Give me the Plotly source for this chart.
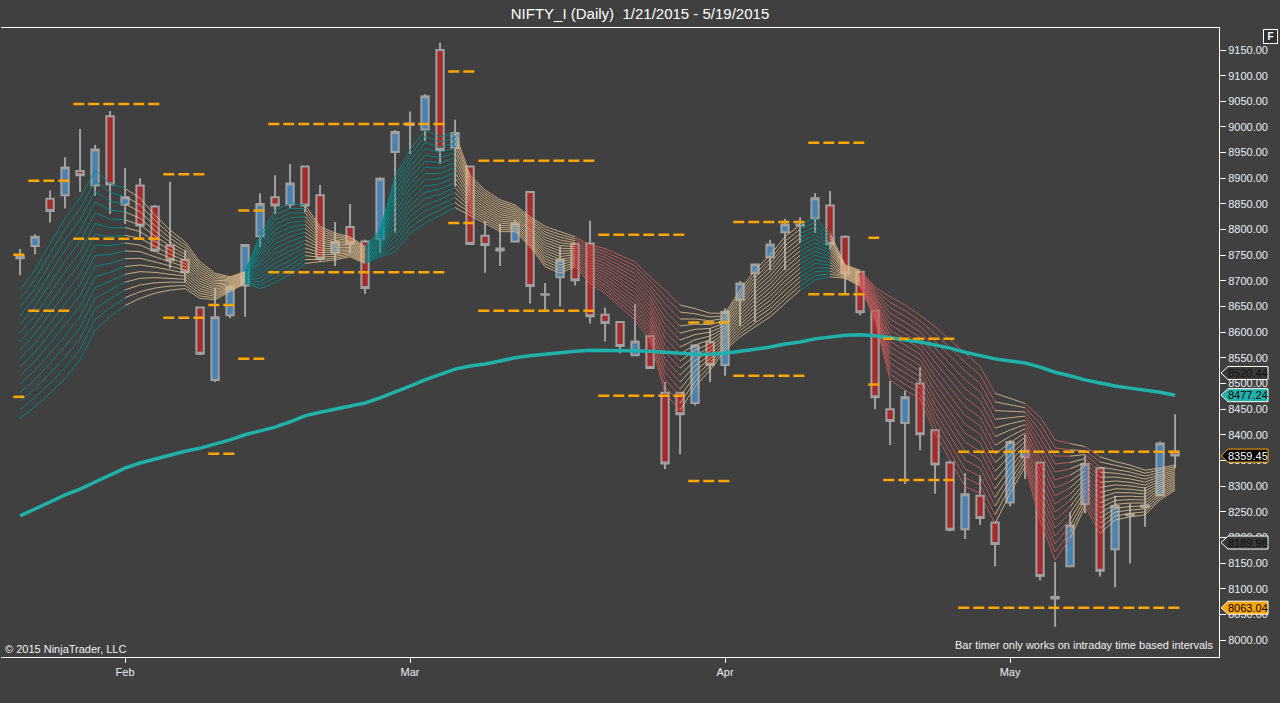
import plotly.graph_objects as go

# NIFTY_I daily, 1/21/2015 - 5/19/2015
days = {
    1: [21, 22, 23, 27, 28, 29, 30],
    2: [2, 3, 4, 5, 6, 9, 10, 11, 12, 13, 16, 18, 19, 20, 23, 24, 25, 26, 27],
    3: [2, 3, 4, 5, 9, 10, 11, 12, 13, 16, 17, 18, 19, 20, 23, 24, 25, 26, 27, 30, 31],
    4: [1, 6, 7, 8, 9, 10, 13, 15, 16, 17, 20, 21, 22, 23, 24, 27, 28, 29, 30],
    5: [4, 5, 6, 7, 8, 11, 12, 13, 14, 15, 18, 19],
}
dates = ['2015-%02d-%02d' % (m, d) for m in sorted(days) for d in days[m]]

opens = [8748, 8768, 8860, 8867, 8914, 8886, 9021, 8849, 8886, 8845,
         8769, 8741, 8648, 8507, 8633, 8691, 8787, 8863, 8849, 8923,
         8867, 8755, 8805, 8777, 8782, 8951, 9004, 8995, 9150, 8959,
         8923, 8788, 8763, 8777, 8873, 8674, 8707, 8772, 8773, 8634,
         8620, 8555, 8592, 8482, 8482, 8462, 8581, 8536, 8663, 8715,
         8746, 8795, 8808, 8822, 8847, 8786, 8718, 8642, 8450, 8423,
         8500, 8409, 8346, 8216, 8281, 8229, 8268, 8356, 8346, 8084,
         8144, 8265, 8335, 8177, 8245, 8259, 8282, 8367]
highs = [8762, 8791, 8876, 8941, 8996, 8965, 9031, 8920, 8900, 8848,
         8893, 8760, 8648, 8686, 8692, 8771, 8871, 8906, 8928, 8923,
         8887, 8815, 8850, 8780, 8902, 8994, 9030, 9064, 9164, 9014,
         8923, 8816, 8811, 8818, 8873, 8696, 8767, 8772, 8817, 8648,
         8621, 8655, 8592, 8503, 8483, 8575, 8607, 8646, 8700, 8734,
         8780, 8821, 8824, 8871, 8875, 8789, 8718, 8642, 8505, 8487,
         8531, 8410, 8350, 8325, 8321, 8230, 8390, 8400, 8347, 8152,
         8249, 8360, 8336, 8281, 8266, 8298, 8387, 8440]
lows = [8711, 8752, 8814, 8841, 8873, 8866, 8831, 8811, 8783, 8758,
        8724, 8698, 8555, 8503, 8627, 8630, 8766, 8831, 8841, 8834,
        8739, 8729, 8754, 8675, 8755, 8794, 8948, 8973, 8928, 8884,
        8771, 8716, 8729, 8776, 8656, 8643, 8650, 8691, 8617, 8582,
        8559, 8554, 8529, 8333, 8362, 8457, 8503, 8515, 8612, 8620,
        8721, 8721, 8774, 8794, 8761, 8676, 8633, 8450, 8380, 8304,
        8370, 8285, 8212, 8197, 8224, 8144, 8260, 8314, 8116, 8026,
        8143, 8247, 8124, 8103, 8149, 8221, 8280, 8335]
closes = [8744, 8786, 8836, 8921, 8906, 8956, 8888, 8863, 8808, 8759,
          8740, 8717, 8558, 8629, 8687, 8770, 8850, 8847, 8890, 8847,
          8743, 8776, 8773, 8686, 8899, 8990, 9007, 9060, 8955, 8988,
          8772, 8770, 8759, 8812, 8690, 8673, 8741, 8701, 8631, 8618,
          8573, 8582, 8530, 8344, 8440, 8574, 8536, 8640, 8695, 8732,
          8771, 8810, 8810, 8861, 8772, 8715, 8639, 8473, 8427, 8473,
          8401, 8342, 8215, 8284, 8238, 8187, 8386, 8369, 8125, 8081,
          8223, 8343, 8135, 8261, 8243, 8262, 8383, 8359.45]

# long moving average (thick teal line)
long_ma = [8242, 8255, 8269, 8283, 8294, 8308, 8322, 8335, 8345, 8353,
           8361, 8368, 8374, 8382, 8390, 8400, 8407, 8415, 8425, 8437,
           8444, 8450, 8456, 8462, 8472, 8483, 8495, 8507, 8518, 8528,
           8534, 8538, 8544, 8550, 8554, 8557, 8561, 8563, 8565, 8565,
           8565, 8564, 8563, 8561, 8558, 8557, 8557, 8559, 8563, 8567,
           8571, 8577, 8581, 8587, 8591, 8594, 8595, 8593, 8589, 8585,
           8581, 8575, 8569, 8561, 8554, 8548, 8544, 8540, 8532, 8522,
           8515, 8507, 8501, 8495, 8491, 8487, 8483, 8477.24]

# moving average ribbon: first and last line of the fan, and trend colour per bar
ribbon_top = [8682, 8721, 8773, 8822, 8861, 8916, 8890, 8880, 8861, 8828,
              8799, 8776, 8737, 8715, 8708, 8718, 8789, 8838, 8851, 8848,
              8806, 8793, 8786, 8767, 8799, 8903, 8955, 8994, 8981, 8988,
              8906, 8877, 8858, 8848, 8825, 8806, 8796, 8786, 8770, 8763,
              8750, 8737, 8708, 8682, 8653, 8646, 8637, 8637, 8682, 8721,
              8750, 8786, 8809, 8822, 8793, 8731, 8721, 8688, 8669, 8653,
              8633, 8611, 8585, 8559, 8533, 8481, 8471, 8461, 8435, 8390,
              8383, 8377, 8357, 8348, 8341, 8331, 8335, 8341]
ribbon_bottom = [8432, 8455, 8481, 8510, 8546, 8604, 8630, 8652, 8666, 8676,
                 8682, 8685, 8666, 8663, 8679, 8695, 8685, 8697, 8712, 8734,
                 8737, 8741, 8747, 8734, 8747, 8757, 8793, 8812, 8828, 8843,
                 8828, 8812, 8796, 8796, 8767, 8728, 8715, 8728, 8695, 8676,
                 8650, 8624, 8585, 8481, 8448, 8494, 8526, 8565, 8591, 8611,
                 8630, 8656, 8682, 8702, 8708, 8705, 8690, 8624, 8507, 8487,
                 8470, 8403, 8351, 8299, 8286, 8227, 8286, 8338, 8234, 8156,
                 8198, 8260, 8208, 8234, 8240, 8244, 8273, 8292]
ribbon_trend = list('uuuuuuuu' 'nnnnnnnn' 'uuuu' 'nnnn' 'uuuuuu' 'nnnnnnnn'
                    'ddddddd' 'nnnnnnnn' 'uu' 'nn' 'ddddddddd' 'nn' 'ddd'
                    'n' 'd' 'nnnnn')

# orange pivot levels: bar range and level
pivot_start = [0, 1, 4, 10, 13, 15, 17, 29, 31, 39, 45, 48, 53, 57, 58, 63]
pivot_end = [0, 3, 9, 12, 14, 16, 28, 30, 38, 44, 47, 52, 56, 57, 62, 77]
pivot_upper = [8751, 8895, 9045, 8908, 8653, 8837, 9006, 9108, 8934, 8790,
               8619, 8815, 8969, 8784, 8587, 8367]
pivot_lower = [8474, 8642, 8782, 8628, 8363, 8548, 8717, 8813, 8642, 8476,
               8310, 8515, 8674, 8498, 8312, 8063.04]

# price markers on the right axis
marker_values = [8520.44, 8477.24, 8359.45, 8189.98, 8063.04]
marker_fill = ['#383838', '#20b2aa', '#000000', '#383838', '#ffa500']
marker_text = ['#111111', '#000000', '#ffffff', '#111111', '#000000']
marker_edge = ['#ffffff', '#ffffff', '#ffa500', '#ffffff', '#ffffff']

month_starts = ['2015-02-02', '2015-03-02', '2015-04-01', '2015-05-04']
month_labels = ['Feb', 'Mar', 'Apr', 'May']

BG = '#404040'
FONT = 'Liberation Sans'
RIBBON_LINES = 16
RIBBON_COLORS = {'u': 'rgba(0,139,139,0.9)',
                 'n': 'rgba(222,188,140,0.85)',
                 'd': 'rgba(205,92,92,0.85)'}

bars = list(range(len(dates)))


def ribbon_traces():
    traces = []
    for state, color in RIBBON_COLORS.items():
        xs, ys = [], []
        for k in range(RIBBON_LINES):
            f = k / (RIBBON_LINES - 1)
            line = [t + (b - t) * f for t, b in zip(ribbon_top, ribbon_bottom)]
            i = 1
            while i < len(line):
                if ribbon_trend[i] != state:
                    i += 1
                    continue
                j = i
                while j + 1 < len(line) and ribbon_trend[j + 1] == state:
                    j += 1
                xs += bars[i - 1:j + 1] + [None]
                ys += line[i - 1:j + 1] + [None]
                i = j + 1
        traces.append(go.Scatter(x=xs, y=ys, mode='lines', hoverinfo='skip',
                                 line=dict(color=color, width=1)))
    return traces


def pivot_trace(levels):
    xs, ys = [], []
    for s, e, v in zip(pivot_start, pivot_end, levels):
        xs += [s - 0.45, e + 0.45, None]
        ys += [v, v, None]
    return go.Scatter(x=xs, y=ys, mode='lines', hoverinfo='skip',
                      line=dict(color='#ffa500', width=2.5, dash='11px,4px'))


candles = go.Candlestick(
    x=bars, open=opens, high=highs, low=lows, close=closes,
    text=dates, whiskerwidth=0,
    increasing=dict(fillcolor='#4682b4', line=dict(color='#a0a0a0', width=2)),
    decreasing=dict(fillcolor='#a52a2a', line=dict(color='#a0a0a0', width=2)),
)

ma_line = go.Scatter(x=bars, y=long_ma, mode='lines', hoverinfo='skip',
                     line=dict(color='#20b2aa', width=3.5))

fig = go.Figure([candles] + ribbon_traces() + [ma_line,
                pivot_trace(pivot_upper), pivot_trace(pivot_lower)])

shapes = []
annotations = []
for v, fill, txt, edge in zip(marker_values, marker_fill, marker_text, marker_edge):
    shapes.append(dict(type='path', xref='paper', yref='y',
                       xsizemode='pixel', xanchor=1, ysizemode='pixel', yanchor=v,
                       path='M 2,0 L 9,6.5 L 49,6.5 L 49,-6.5 L 9,-6.5 Z',
                       fillcolor=fill, line=dict(color=edge, width=1), layer='above'))
    annotations.append(dict(xref='paper', yref='y', x=1, y=v, xshift=29,
                            text='%.2f' % v, showarrow=False, xanchor='center',
                            font=dict(family=FONT, size=11, color=txt)))

annotations += [
    dict(xref='paper', yref='paper', x=0, y=0, xanchor='left', yanchor='bottom',
         xshift=2, yshift=0, showarrow=False, text='© 2015 NinjaTrader, LLC',
         font=dict(family=FONT, size=11, color='#f0f0f0')),
    dict(xref='paper', yref='paper', x=1, y=0, xanchor='right', yanchor='bottom',
         xshift=-4, yshift=4, showarrow=False,
         text='Bar timer only works on intraday time based intervals',
         font=dict(family=FONT, size=11, color='#f0f0f0')),
    dict(xref='paper', yref='paper', x=1, y=1, xanchor='right', yanchor='top',
         xshift=59, yshift=-1, showarrow=False, text='<b>F</b>',
         bgcolor='#303030', bordercolor='#ffffff', borderwidth=1, borderpad=1,
         width=11, height=11, font=dict(family=FONT, size=10, color='#ffffff')),
]

fig.update_layout(
    width=1280, height=703,
    margin=dict(l=1, r=61, t=28, b=46),
    paper_bgcolor=BG, plot_bgcolor=BG,
    showlegend=False,
    title=dict(text='NIFTY_I (Daily)  1/21/2015 - 5/19/2015',
               x=0.5, xref='container', y=0.981, yref='container',
               xanchor='center', yanchor='middle',
               font=dict(family=FONT, size=15, color='#ffffff')),
    xaxis=dict(range=[-1.27, 79.93], rangeslider=dict(visible=False),
               tickmode='array', tickvals=[dates.index(d) for d in month_starts],
               ticktext=month_labels, ticks='outside', ticklen=5, tickcolor='#ffffff',
               showline=True, mirror=True, linecolor='#ffffff', linewidth=1,
               showgrid=False, zeroline=False,
               tickfont=dict(family=FONT, size=11, color='#e8eef5')),
    yaxis=dict(side='right', range=[7966.9, 9192.9],
               tickmode='array', tickvals=list(range(8000, 9151, 50)), tickformat='.2f',
               ticks='outside', ticklen=6, tickcolor='#ffffff',
               showline=True, linecolor='#ffffff', linewidth=1,
               showgrid=False, zeroline=False,
               tickfont=dict(family=FONT, size=11, color='#e8eef5')),
    shapes=shapes,
    annotations=annotations,
)

# the page's default body margin would push the 1280px figure out of the window
fig.write_html('out.html', config={'displayModeBar': False},
               post_script="document.body.style.margin='0';"
               "document.body.style.background='%s';" % BG)
